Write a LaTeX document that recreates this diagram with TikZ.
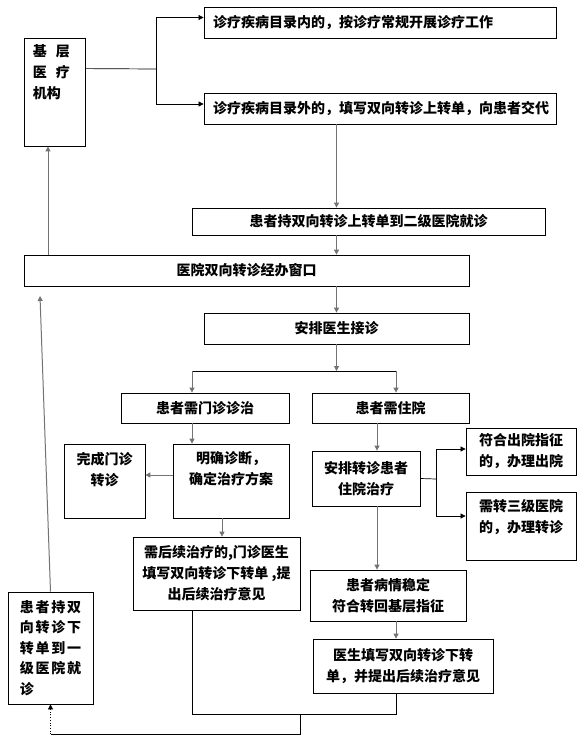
\documentclass[tikz,border=0pt]{standalone}
\usepackage{fontspec}
\setmainfont{Noto Sans CJK SC}
\newfontfamily\kuanfont{Noto Sans CJK SC}[LetterSpace=12]
\usetikzlibrary{arrows.meta,positioning}

\tikzset{
  box/.style={draw, line width=0.8pt, inner sep=2pt, align=center,
              font=\bfseries\fontsize{14}{21}\selectfont},
  txt/.style={inner sep=0pt, align=center,
              font=\bfseries\fontsize{14}{21}\selectfont},
  conn/.style={draw=black!55, line width=1pt},
  link/.style={draw=black, line width=0.7pt},
}

\begin{document}
\begin{tikzpicture}[x=1pt, y=-1pt, >={Triangle[length=5pt,width=5pt]}]
  \fill[white] (0,0) rectangle (587,742);
  \useasboundingbox (0,0) rectangle (587,742);

  % ---- Top: primary care and its two cases ----
  \node[box, minimum width=61pt, minimum height=108pt] (jiceng) at (54.5,92) {};
  \node[txt, align=left, below right=7pt and 9pt of jiceng.north west] (jicengtxt)
    {基\hspace{9pt}层\\医\hspace{9pt}疗\\机构};
  \node[box, align=left, inner xsep=9pt, text width=334pt, minimum height=31pt] (neibox) at (380,22.5)
    {诊疗疾病目录内的，按诊疗常规开展诊疗工作};
  \node[box, align=left, inner xsep=9pt, text width=334pt, minimum height=31pt] (waibox) at (380,108.5)
    {诊疗疾病目录外的，填写双向转诊上转单，向患者交代};

  % ---- Middle: second level hospital ----
  \node[box, minimum width=353pt, minimum height=27pt] (shangzhuan) at (368.5,221.5)
    {患者持双向转诊上转单到二级医院就诊};
  \node[box, minimum width=445pt, minimum height=31pt] (chuangkou) at (246.5,270.5)
    {医院双向转诊经办窗口};
  \node[box, minimum width=265pt, minimum height=31pt] (anpai) at (336.5,328.5)
    {安排医生接诊};
  \node[box, minimum width=168pt, minimum height=30pt] (menzhen) at (205,408)
    {患者需门诊诊治};
  \node[box, minimum width=157pt, minimum height=30pt] (zhuyuan) at (390.5,408)
    {患者需住院};

  % outpatient side
  \node[box, minimum width=81pt, minimum height=74pt] (wancheng) at (104.5,481) {};
  \node[txt, below=8pt of wancheng.north] (wanchengtxt) {完成门诊\\转诊};
  \node[box, minimum width=116pt, minimum height=74pt] (mingque) at (231,481) {};
  \node[txt, below=8pt of mingque.north] (mingquetxt) {明确诊断，\\确定治疗方案};
  \node[box, minimum width=167pt, minimum height=73pt] (houxu) at (216.5,573.5)
    {需后续治疗的,门诊医生\\填写双向转诊下转单 ,提\\出后续治疗意见};

  % inpatient side
  \node[box, minimum width=108pt, minimum height=55pt] (anzhuyuan) at (366,478.5)
    {安排转诊患者\\住院治疗};
  \node[box, minimum width=110pt, minimum height=47pt] (chuyuan) at (521,451.5)
    {符合出院指征\\的，办理出院};
  \node[box, minimum width=110pt, minimum height=68pt] (sanji) at (521,526) {};
  \node[txt, below=8pt of sanji.north] (sanjitxt) {需转三级医院\\的，办理转诊};
  \node[box, minimum width=156pt, minimum height=51pt] (wending) at (388,595.5)
    {患者病情稳定\\符合转回基层指征};
  \node[box, minimum width=180pt, minimum height=54pt] (xiazhuan) at (403,666)
    {医生填写双向转诊下转\\单，并提出后续治疗意见};

  % ---- Bottom left: back to first level ----
  \node[box, align=left, minimum width=85pt, minimum height=112pt,
        font=\bfseries\kuanfont\fontsize{14}{20.5}\selectfont] (yiji) at (50.5,648)
    {患者持双\\向转诊下\\转单到一\\级医院就\\诊};

  % ---- Connectors ----
  \coordinate (fork1) at (156,69);
  \draw[link] ([yshift=-31pt]jiceng.north east) -- (fork1);
  \draw[link,->] (fork1) |- ([yshift=5pt]neibox.west);
  \draw[link,->] (fork1) |- ([yshift=4.5pt]waibox.west);

  \draw[conn,->] (waibox.south -| anpai.north) -- (shangzhuan.north -| anpai.north);
  \draw[conn,->] (shangzhuan.south -| anpai.north) -- (chuangkou.north -| anpai.north);
  \draw[conn,->] (chuangkou.south -| anpai.north) -- (anpai.north);

  \coordinate (fenL) at (192,371);
  \coordinate (fenR) at (396,371);
  \draw[conn,->] (anpai.south) -- (anpai.south |- fenL);
  \draw[link] (fenL) -- (fenR);
  \draw[conn,->] (fenL) -- (menzhen.north -| fenL);
  \draw[conn,->] (fenR) -- (zhuyuan.north -| fenR);

  \draw[conn,->] (menzhen.south -| fenL) -- (mingque.north -| fenL);
  \draw[conn,->] ([yshift=6pt]mingque.west) -- ([yshift=6pt]wancheng.east);
  \coordinate (mq) at ([xshift=-9pt]mingque.south);
  \draw[conn,->] (mq) -- (mq |- houxu.north);

  \coordinate (zy) at ([xshift=-13.5pt]zhuyuan.south);
  \draw[conn,->] (zy) -- (zy |- anzhuyuan.north);
  \draw[conn,->] (zy |- anzhuyuan.south) -- (zy |- wending.north);
  \coordinate (fork2) at (436,479);
  \draw[link] (anzhuyuan.east) -- (fork2);
  \draw[link,->] (fork2) |- ([yshift=2.5pt]chuyuan.west);
  \draw[link,->] (fork2) |- ([yshift=10pt]sanji.west);
  \draw[conn,->] (wending.south -| fenR) -- (xiazhuan.north -| fenR);

  \coordinate (hebing) at (300,714);
  \coordinate (dixian) at (300,734);
  \draw[link] (houxu.south -| fenL) -- (fenL |- hebing) -- (fenR |- hebing)
    -- (xiazhuan.south -| fenR);
  \draw[link] (hebing) -- (dixian) -- (dixian -| yiji.south);
  \draw[link,dotted,->] (dixian -| yiji.south) -- (yiji.south);

  \coordinate (kouxia) at (40,296);
  \draw[conn,->] (yiji.north) -- (kouxia);
  \coordinate (shangx) at ([xshift=-6.5pt]jiceng.south);
  \draw[conn,->] (chuangkou.north -| shangx) -- (shangx);
\end{tikzpicture}
\end{document}
